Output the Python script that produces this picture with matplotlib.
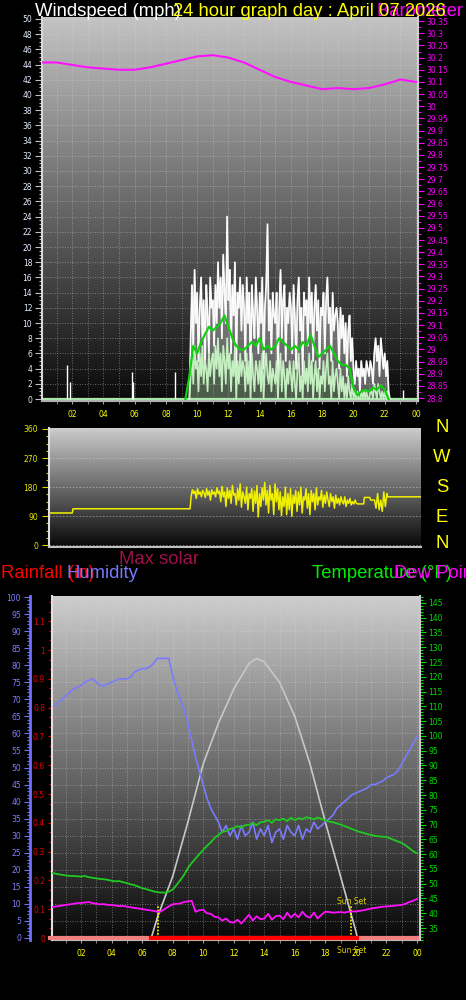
import matplotlib
matplotlib.use("Agg")
import matplotlib.pyplot as plt
import numpy as np
from matplotlib.ticker import MultipleLocator, FuncFormatter

# ---------------- data ----------------
# barometer, hourly (inHg)
baro = [30.18, 30.18, 30.17, 30.16, 30.155, 30.15, 30.15, 30.16, 30.175, 30.19,
        30.205, 30.21, 30.20, 30.18, 30.15, 30.12, 30.10, 30.085, 30.07, 30.075,
        30.07, 30.075, 30.09, 30.11, 30.10]

# wind, 5 minute samples starting 09:30
wind_start = 9.5
gust = [0, 8, 15, 6, 17, 10,
        14, 5, 12, 16, 8, 13, 4, 15, 11, 6, 16, 12,
        13, 7, 15, 10, 18, 12, 16, 8, 19, 14, 10, 24,
        13, 17, 6, 15, 11, 18, 4, 14, 12, 16, 9, 15,
        12, 5, 16, 10, 14, 3, 15, 11, 8, 16, 12, 6,
        14, 10, 16, 4, 12, 15, 23, 9, 13, 6, 14, 11,
        10, 14, 3, 12, 17, 8, 13, 15, 5, 12, 10, 14,
        12, 6, 15, 11, 4, 13, 16, 9, 12, 3, 14, 11,
        13, 7, 16, 10, 14, 5, 12, 15, 9, 13, 4, 12,
        11, 14, 6, 13, 16, 10, 12, 5, 14, 9, 11, 12,
        10, 4, 12, 8, 11, 6, 10, 3, 9, 11, 5, 8,
        4, 2, 5, 3, 4, 1, 5, 3, 4, 2, 5, 4,
        3, 5, 4, 2, 6, 8, 5, 7, 3, 8, 6, 4,
        6, 3, 5, 1, 0]
avg_wind = [0, 3, 6, 2, 7, 4,
            5, 1, 6, 3, 7, 2, 5, 4, 1, 6, 3, 5,
            6, 2, 7, 4, 8, 3, 6, 1, 7, 5, 2, 8,
            4, 6, 1, 5, 3, 7, 0, 5, 2, 6, 3, 5,
            4, 1, 6, 2, 5, 0, 6, 3, 1, 5, 4, 2,
            5, 1, 6, 0, 4, 6, 3, 2, 5, 1, 4, 3,
            2, 5, 0, 4, 6, 1, 5, 3, 0, 4, 2, 5,
            3, 1, 5, 2, 0, 4, 6, 1, 3, 0, 5, 2,
            4, 1, 6, 2, 5, 0, 3, 5, 1, 4, 0, 3,
            2, 5, 1, 4, 6, 2, 3, 0, 5, 1, 3, 4,
            2, 0, 4, 1, 3, 0, 2, 0, 3, 1, 0, 2,
            0, 1, 0, 1, 0, 0, 1, 0, 1, 0, 1, 0,
            0, 1, 1, 0, 2, 1, 0, 2, 1, 0, 1, 0,
            1, 0, 1, 0, 0]
# isolated gusts in the quiet hours
spike_t = [1.67, 1.85, 5.85, 5.92, 8.55, 23.2]
spike_v = [4.5, 2.2, 3.5, 2.3, 3.5, 1.2]
# smoothed average wind, 15 minute samples from 09:15
smooth_start = 9.25
smooth_wind = [0, 3, 7, 6, 7.5, 8.5, 9.5, 9, 9.5, 10, 11, 9.5, 8, 7, 6.5, 6.5,
               7, 7.5, 7, 8, 6.5, 7, 6.5, 7, 8, 7.5, 7, 6.5, 7, 6.5, 7.5, 7,
               8.5, 7, 5.5, 6, 6.5, 7, 6, 5, 4.5, 4.5, 4, 1.5, 0.5, 1, 1.2, 1,
               1.5, 1.2, 1.8, 1.2, 0]

# wind direction (degrees)
dir_quiet_t = [0, 1.5, 1.55, 9.1, 9.16]
dir_quiet_v = [100, 100, 113, 113, 150]
dir_start = 9.1667  # 5 minute samples
dir_noisy = [150, 172, 160, 168, 145, 175, 158, 165, 150, 170,
             162, 148, 175, 155, 168, 140, 172, 158, 165, 150, 178, 160,
             168, 135, 182, 150, 165, 120, 178, 145, 170, 130, 185, 155,
             160, 125, 175, 140, 190, 118, 165, 150, 130, 180, 110, 160,
             145, 175, 105, 168, 130, 185, 88, 160, 120, 178, 140, 195,
             125, 170, 100, 185, 140, 160, 95, 190, 135, 175, 110, 165,
             92, 150, 120, 180, 95, 160, 110, 175, 90, 155, 130, 170,
             105, 165, 125, 180, 100, 150, 140, 175, 115, 160, 95, 170,
             135, 160, 110, 178, 125, 150, 140, 170, 118, 155, 130, 165,
             140, 120, 160, 135, 150, 115, 155, 130, 145, 125, 150, 135,
             128, 150, 120, 140, 130, 145, 125, 135, 128, 140, 130, 128]
dir_tail_t = [20.0, 20.3, 20.35, 20.7, 20.75, 21.0, 21.1, 21.2, 21.3, 21.4,
              21.5, 21.6, 21.7, 21.8, 21.85, 24.0]
dir_tail_v = [128, 128, 148, 148, 140, 140, 115, 160, 110, 140, 105, 165,
              120, 160, 150, 150]
compass = ["N", "W", "S", "E", "N"]

# bottom panel, 15 minute samples 00:00 .. 24:00
humidity = [67, 68, 69, 70, 71, 72, 73, 73.5, 74, 75, 75.5, 76, 75, 74, 74, 74.5,
            75, 75.5, 76, 76, 76, 76.5, 78, 78.5, 79, 79, 79.5, 80.5, 82, 82, 82, 82,
            77, 73, 70, 67, 63, 58, 53, 49, 45, 41, 38, 36, 34, 31, 33, 30,
            32, 29, 33, 30, 31, 34, 29, 32, 30, 33, 28, 31, 32, 29, 33, 31,
            30, 33, 29, 32, 31, 34, 32, 33, 34, 35, 36, 38, 39, 40, 41, 42,
            42.5, 43, 43.5, 44, 45, 45, 45.5, 46, 47, 47.5, 48, 49, 51, 53, 55, 57, 59]
temperature = [53.8, 53.5, 53.2, 53.0, 52.8, 52.6, 52.6, 52.5, 52.4, 52.6, 52.2, 52.0,
               51.8, 51.6, 51.5, 51.3, 51.0, 50.8, 50.9, 50.5, 50.2, 49.8, 49.5, 49.0,
               48.5, 48.2, 47.8, 47.4, 47.1, 47.0, 47.0, 47.3, 48.0, 49.5, 51.2, 53.0,
               55.3, 57.0, 58.5, 60.0, 61.4, 62.8, 64.0, 65.5, 66.5, 67.5, 67.8, 68.5,
               68.8, 69.5, 68.9, 69.8, 69.9, 70.5, 69.8, 70.8, 70.9, 71.5, 70.6, 71.8,
               71.5, 72.0, 71.2, 72.3, 71.5, 72.2, 71.8, 72.5, 72.2, 71.8, 72.4, 71.9,
               71.5, 71.0, 70.8, 70.4, 70.0, 69.5, 69.0, 68.5, 68.0, 67.5, 67.2, 66.8,
               66.5, 66.2, 66.0, 65.9, 65.8, 65.3, 64.8, 64.3, 63.8, 63.0, 62.0, 61.0, 60.3]
dew_point = [42.0, 42.2, 42.4, 42.6, 42.8, 43.0, 43.2, 43.4, 43.5, 43.6, 43.8, 43.4,
             43.2, 43.0, 43.1, 42.8, 42.8, 42.6, 42.4, 42.5, 42.2, 42.0, 41.8, 41.6,
             41.4, 41.2, 41.0, 40.8, 40.5, 40.6, 41.5, 42.3, 43.0, 43.2, 43.3, 43.8,
             44.0, 44.2, 40.5, 41.0, 41.2, 40.0, 39.8, 38.8, 38.6, 37.5, 38.2, 37.0,
             36.8, 37.8, 36.5, 38.0, 39.5, 37.5, 39.0, 38.0, 38.2, 39.8, 37.8, 39.0,
             39.2, 38.0, 40.2, 38.5, 39.8, 38.6, 40.5, 39.0, 38.5, 40.2, 38.2, 39.5,
             40.5, 40.4, 40.2, 40.3, 40.4, 40.2, 40.5, 40.6, 40.6, 40.8, 41.0, 41.3,
             41.6, 41.8, 42.0, 42.2, 42.3, 42.4, 42.5, 42.7, 42.8, 43.2, 43.8, 44.2, 44.8]
solar_t = [6.6, 7, 8, 9, 10, 11, 12, 13, 13.5, 14, 15, 16, 17, 18, 19, 20, 20.1]
solar_v = [0, 6, 18, 34, 51, 63, 73, 80.5, 82, 81, 75, 65, 51, 34, 18, 2, 0]
rain_t = [0, 24]
rain_v = [0, 0]
sunrise, sunset = 7.05, 19.7
daylight = [6.6, 20.1]

# ---------------- figure ----------------
W, H = 466, 1000
fig = plt.figure(figsize=(W / 100, H / 100), dpi=100, facecolor="black")
BIG = dict(family="Liberation Sans", fontsize=13.3)
SMALL = 5.5


def px_axes(x0, y0, x1, y1):
    return fig.add_axes([x0 / W, 1 - y1 / H, (x1 - x0) / W, (y1 - y0) / H])


def gradient(ax, top, bottom):
    g = np.linspace(bottom, top, 256).reshape(-1, 1)
    ax.imshow(g, extent=[0, 1, 0, 1], transform=ax.transAxes, origin="lower",
              cmap="gray", vmin=0, vmax=255, aspect="auto", zorder=0)


def hour_fmt(v, p):
    return "%02d" % (int(round(v)) % 24)


grid_kw = dict(color="#d8d8d8", linestyle=(0, (1, 2)), linewidth=0.6, alpha=0.55)

# ---- windspeed / barometer ----
ax1 = px_axes(42, 17, 418, 401)
gradient(ax1, 195, 10)
wt = wind_start + np.arange(len(gust)) / 12
ax1.plot([0, 24], [0, 0], color="#a8e8a8", lw=1.6, zorder=2)
ax1.vlines(spike_t, 0, spike_v, colors="white", lw=1.0, zorder=3)
ax1.fill_between(wt, avg_wind, gust, color="#c8c8c8", alpha=0.45, lw=0, zorder=2.5)
ax1.plot(wt, gust, color="#e8e8e8", lw=1.3, zorder=3)
ax1.plot(wt, gust, color="white", lw=0.7, zorder=3)
ax1.fill_between(wt, 0, avg_wind, color="#c4efc0", alpha=0.35, lw=0, zorder=3.5)
ax1.plot(wt, avg_wind, color="#c4efc0", lw=1.2, zorder=4)
st = smooth_start + np.arange(len(smooth_wind)) / 4
ax1.plot(st, smooth_wind, color="#10d010", lw=1.6, zorder=5)
ax1.set_xlim(0.07, 24.13)
ax1.set_ylim(-0.26, 50.26)
ax1.yaxis.set_major_locator(MultipleLocator(2))
ax1.yaxis.set_minor_locator(MultipleLocator(0.5))
ax1.xaxis.set_major_locator(MultipleLocator(2))
ax1.xaxis.set_minor_locator(MultipleLocator(1))
ax1.xaxis.set_major_formatter(FuncFormatter(hour_fmt))
ax1.grid(axis="x", which="both", **grid_kw)
ax1.grid(axis="y", which="major", **grid_kw)
ax1.tick_params(axis="y", which="both", colors="#c0c0c0", labelcolor="#e4ecff",
                labelsize=SMALL, width=0.8, pad=2)
ax1.tick_params(axis="y", which="major", length=5)
ax1.tick_params(axis="y", which="minor", length=2.5)
ax1.tick_params(axis="x", which="both", colors="#a0a0a0", labelcolor="#ffff00",
                labelsize=SMALL, length=2.5, pad=4)
for s in ["top", "right"]:
    ax1.spines[s].set_visible(False)
ax1.spines["left"].set_color("#d8d8d8")
ax1.spines["left"].set_linewidth(1.5)
ax1.spines["bottom"].set_color("#b0b0b0")
ax1.spines["bottom"].set_linewidth(1.5)

axp = ax1.twinx()
axp.plot(np.arange(len(baro)), baro, color="#ff10ff", lw=1.5, zorder=6)
axp.set_ylim(28.788, 30.367)
axp.yaxis.set_major_locator(MultipleLocator(0.05))
axp.yaxis.set_minor_locator(MultipleLocator(0.025))
axp.yaxis.set_major_formatter(FuncFormatter(lambda v, p: ("%.2f" % v).rstrip("0").rstrip(".")))
axp.tick_params(axis="y", which="both", colors="#ff00ff", labelsize=SMALL, width=0.8, pad=2)
axp.tick_params(axis="y", which="major", length=4)
axp.tick_params(axis="y", which="minor", length=2)
for s in ["top", "left", "bottom"]:
    axp.spines[s].set_visible(False)
axp.spines["right"].set_color("#d0d0d0")
axp.spines["right"].set_linewidth(1.5)

# ---- wind direction ----
ax2 = px_axes(49, 428, 421, 547)
gradient(ax2, 205, 8)
dt_noisy = dir_start + np.arange(len(dir_noisy)) / 12
ax2.plot(list(dir_quiet_t) + list(dt_noisy) + dir_tail_t,
         list(dir_quiet_v) + list(dir_noisy) + dir_tail_v, color="#f0f000", lw=1.1, zorder=3)
ax2.set_xlim(0, 24)
ax2.set_ylim(-5.3, 363)
ax2.set_yticks([0, 90, 180, 270, 360])
ax2.yaxis.set_minor_locator(MultipleLocator(22.5))
ax2.grid(axis="y", which="major", color="#d0d0d0", linestyle=(0, (2, 2)), linewidth=0.6, alpha=0.6)
ax2.tick_params(axis="y", which="both", colors="#d8d800", labelcolor="#e8e800",
                labelsize=SMALL, width=0.8, pad=3)
ax2.tick_params(axis="y", which="major", length=5)
ax2.tick_params(axis="y", which="minor", length=2.5)
ax2.tick_params(axis="x", which="both", bottom=False, labelbottom=False)
for s in ["top", "right"]:
    ax2.spines[s].set_visible(False)
ax2.spines["left"].set_color("#e0e0e0")
ax2.spines["left"].set_linewidth(1.5)
ax2.spines["bottom"].set_color("#c0c0c0")
ax2.spines["bottom"].set_linewidth(1.5)
for letter, py in zip(compass, [428, 458, 488, 517, 544]):
    fig.text(442 / W, 1 - py / H, letter, color="#ffff00", ha="center", va="center", **BIG)

# ---- humidity / rain / temperature ----
axb = px_axes(52, 596, 420, 940)
gradient(axb, 205, 8)
qt = np.arange(len(humidity)) / 4
axb.plot(solar_t, solar_v, color="#c8c8c8", lw=1.2, zorder=3)
axb.plot(qt, humidity, color="#7b7bff", lw=1.2, zorder=4)
axb.vlines([sunrise, sunset], 0, 9.5, colors="#ffff00", linestyles=(0, (1, 1)), lw=1.2, zorder=5)
axb.text(sunset, 10.8, "Sun Set", color="#e0d000", fontsize=SMALL, ha="center", va="center", zorder=6)
axb.set_xlim(0.1, 24.2)
axb.set_ylim(-0.59, 100.3)
axb.yaxis.set_major_locator(MultipleLocator(5))
axb.yaxis.set_minor_locator(MultipleLocator(1))
axb.xaxis.set_major_locator(MultipleLocator(2))
axb.xaxis.set_minor_locator(MultipleLocator(1))
axb.xaxis.set_major_formatter(FuncFormatter(hour_fmt))
axb.grid(axis="x", which="both", **grid_kw)
axb.grid(axis="y", which="major", **grid_kw)
axb.spines["left"].set_position(("outward", 15.8))
axb.spines["left"].set_color("#7070ff")
axb.spines["left"].set_linewidth(2)
axb.spines["bottom"].set_color("#c0c0c0")
axb.spines["bottom"].set_linewidth(1.5)
for s in ["top", "right"]:
    axb.spines[s].set_visible(False)
axb.tick_params(axis="y", which="both", colors="#7070ff", labelcolor="#8080ff",
                labelsize=SMALL, width=0.8, pad=2)
axb.tick_params(axis="y", which="major", length=4.5)
axb.tick_params(axis="y", which="minor", length=2.5)
axb.tick_params(axis="x", which="both", colors="#a0a0a0", labelcolor="#ffff00",
                labelsize=SMALL, length=2.5, pad=4)
axb.text(sunset, -0.031, "Sun Set", transform=axb.get_xaxis_transform(), color="#e0d000",
         fontsize=SMALL, ha="center", va="center")

axr = axb.twinx()
axr.yaxis.tick_left()
axr.plot(rain_t, rain_v, color="#f08080", lw=3, zorder=3, clip_on=False)
axr.plot(daylight, [0, 0], color="#ff0000", lw=3, zorder=4, clip_on=False)
axr.set_ylim(-0.0069, 1.1875)
axr.yaxis.set_major_locator(MultipleLocator(0.1))
axr.yaxis.set_minor_locator(MultipleLocator(0.1 / 3))
axr.yaxis.set_major_formatter(FuncFormatter(lambda v, p: "%g" % round(v, 2)))
axr.tick_params(axis="y", which="both", colors="#e00000", labelsize=SMALL, width=0.8, pad=2)
axr.tick_params(axis="y", which="major", length=3)
axr.tick_params(axis="y", which="minor", length=2)
for s in ["top", "right", "bottom"]:
    axr.spines[s].set_visible(False)
axr.spines["left"].set_color("#e0e0e0")
axr.spines["left"].set_linewidth(1.5)

axt = axb.twinx()
axt.plot(qt, temperature, color="#20c820", lw=1.3, zorder=3)
axt.plot(qt, dew_point, color="#ff10ff", lw=1.3, zorder=4)
axt.set_ylim(30.94, 147.35)
axt.yaxis.set_major_locator(MultipleLocator(5))
axt.yaxis.set_minor_locator(MultipleLocator(1))
axt.tick_params(axis="y", which="both", colors="#00e000", labelsize=SMALL, width=0.8, pad=2)
axt.tick_params(axis="y", which="major", length=4)
axt.tick_params(axis="y", which="minor", length=2)
for s in ["top", "left", "bottom"]:
    axt.spines[s].set_visible(False)
axt.spines["right"].set_color("#c8c8c8")
axt.spines["right"].set_linewidth(1.5)

# ---- titles ----
fig.text(35 / W, 1 - 11 / H, "Windspeed (mph)", color="white", ha="left", va="center", **BIG)
fig.text(377 / W, 1 - 11 / H, "Barometer (inHg)", color="#ff00ff", ha="left", va="center", **BIG)
fig.text(173 / W, 1 - 11 / H, "24 hour graph day : April 07 2026", color="#ffff00",
         ha="left", va="center", **BIG)
fig.text(119 / W, 1 - 560 / H, "Max solar", color="#a0104a", ha="left", va="center", **BIG)
fig.text(1 / W, 1 - 573 / H, "Rainfall (in)", color="#ff0000", ha="left", va="center", **BIG)
fig.text(66 / W, 1 - 573 / H, "Humidity", color="#7878ff", ha="left", va="center", **BIG)
fig.text(312 / W, 1 - 573 / H, "Temperature (°F)", color="#00ee00", ha="left", va="center", **BIG)
fig.text(394 / W, 1 - 573 / H, "Dew Point (°F)", color="#ff00ff", ha="left", va="center", **BIG)

fig.savefig("out.png", dpi=100, facecolor="black")
